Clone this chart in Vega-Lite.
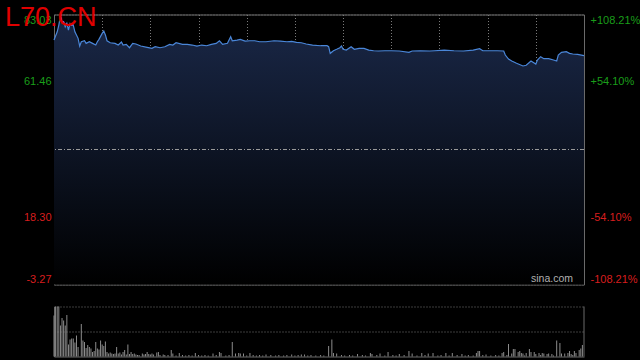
{
  "$schema": "https://vega.github.io/schema/vega-lite/v6.json",
  "background": "#000000",
  "autosize": {"type": "none"},
  "padding": {"left": 54, "top": 14.5, "right": 56, "bottom": 345.5},
  "title": {"text": "L70.CN", "anchor": "start", "frame": "group", "color": "#e00000", "fontSize": 27, "font": "Liberation Sans", "fontWeight": "normal", "baseline": "alphabetic", "offset": 0, "dx": -49, "dy": 39.5},
  "config": {"view": {"stroke": null}, "font": "Liberation Sans", "axis": {"labelFont": "Liberation Sans", "labelFontSize": 11}},
  "spacing": 20,
  "datasets": {
    "price": [
      {"t":0,"p":74.86},{"t":2,"p":77.51},{"t":3,"p":79.65},{"t":4,"p":82.52},{"t":5,"p":80.29},{"t":6,"p":80.70},{"t":7,"p":79.11},{"t":8,"p":80.19},{"t":9,"p":78.05},{"t":10,"p":80.19},{"t":11,"p":79.65},{"t":12,"p":79.65},{"t":13,"p":77.51},{"t":15,"p":75.41},{"t":16,"p":72.95},{"t":17,"p":74.32},{"t":19,"p":74.64},{"t":20,"p":73.81},{"t":22,"p":74.32},{"t":24,"p":73.81},{"t":26,"p":73.27},{"t":27,"p":74.32},{"t":28,"p":75.09},{"t":30,"p":77.00},{"t":31,"p":77.73},{"t":32,"p":76.49},{"t":33,"p":74.64},{"t":35,"p":74.00},{"t":38,"p":73.81},{"t":40,"p":73.27},{"t":42,"p":74.23},{"t":43,"p":73.27},{"t":45,"p":73.49},{"t":47,"p":72.41},{"t":49,"p":73.81},{"t":51,"p":73.59},{"t":54,"p":72.95},{"t":58,"p":72.54},{"t":61,"p":72.22},{"t":63,"p":72.73},{"t":66,"p":72.41},{"t":69,"p":72.73},{"t":72,"p":73.49},{"t":74,"p":73.27},{"t":76,"p":74.00},{"t":80,"p":73.49},{"t":83,"p":73.49},{"t":86,"p":73.27},{"t":89,"p":72.95},{"t":92,"p":73.27},{"t":95,"p":73.05},{"t":98,"p":73.49},{"t":101,"p":73.81},{"t":103,"p":74.64},{"t":105,"p":73.49},{"t":108,"p":73.81},{"t":110,"p":75.92},{"t":111,"p":74.64},{"t":114,"p":74.86},{"t":116,"p":75.09},{"t":119,"p":74.55},{"t":122,"p":74.64},{"t":125,"p":74.64},{"t":128,"p":74.32},{"t":132,"p":74.32},{"t":137,"p":74.64},{"t":141,"p":74.55},{"t":145,"p":74.32},{"t":148,"p":74.45},{"t":151,"p":74.13},{"t":154,"p":74.00},{"t":157,"p":73.59},{"t":161,"p":73.27},{"t":166,"p":73.05},{"t":170,"p":73.05},{"t":171,"p":72.73},{"t":172,"p":70.62},{"t":174,"p":71.45},{"t":176,"p":71.90},{"t":178,"p":72.41},{"t":179,"p":72.95},{"t":180,"p":71.90},{"t":182,"p":71.67},{"t":185,"p":72.73},{"t":187,"p":71.90},{"t":190,"p":72.22},{"t":193,"p":72.22},{"t":196,"p":71.67},{"t":199,"p":71.45},{"t":202,"p":71.36},{"t":206,"p":71.45},{"t":210,"p":71.45},{"t":215,"p":71.36},{"t":221,"p":70.94},{"t":223,"p":71.36},{"t":228,"p":71.45},{"t":234,"p":71.36},{"t":237,"p":71.45},{"t":243,"p":71.67},{"t":249,"p":71.45},{"t":255,"p":71.36},{"t":261,"p":71.67},{"t":265,"p":72.09},{"t":267,"p":71.45},{"t":271,"p":71.45},{"t":276,"p":71.45},{"t":280,"p":71.36},{"t":281,"p":70.08},{"t":283,"p":68.80},{"t":285,"p":68.17},{"t":288,"p":67.43},{"t":292,"p":66.57},{"t":294,"p":66.79},{"t":297,"p":68.17},{"t":300,"p":67.21},{"t":301,"p":68.48},{"t":303,"p":69.54},{"t":305,"p":68.90},{"t":308,"p":68.90},{"t":311,"p":68.48},{"t":313,"p":68.17},{"t":314,"p":70.08},{"t":316,"p":70.94},{"t":319,"p":71.13},{"t":321,"p":70.62},{"t":323,"p":70.40},{"t":326,"p":70.30},{"t":330,"p":69.86}
    ],
    "vol": [
      {"t":0,"v":82},{"t":1,"v":100},{"t":2,"v":100},{"t":3,"v":100},{"t":4,"v":62},{"t":5,"v":77},{"t":6,"v":72},{"t":7,"v":62},{"t":8,"v":83},{"t":9,"v":24},{"t":10,"v":34},{"t":11,"v":36},{"t":12,"v":36},{"t":13,"v":28},{"t":14,"v":42},{"t":15,"v":19},{"t":17,"v":65},{"t":18,"v":32},{"t":19,"v":29},{"t":20,"v":17},{"t":21,"v":23},{"t":22,"v":19},{"t":23,"v":16},{"t":24,"v":9},{"t":25,"v":11},{"t":26,"v":29},{"t":27,"v":16},{"t":28,"v":14},{"t":29,"v":32},{"t":30,"v":24},{"t":31,"v":21},{"t":32,"v":30},{"t":33,"v":9},{"t":34,"v":6},{"t":35,"v":8},{"t":36,"v":6},{"t":37,"v":5},{"t":38,"v":6},{"t":39,"v":19},{"t":40,"v":6},{"t":41,"v":8},{"t":42,"v":4},{"t":43,"v":9},{"t":44,"v":13},{"t":45,"v":4},{"t":46,"v":24},{"t":47,"v":5},{"t":48,"v":9},{"t":49,"v":5},{"t":50,"v":6},{"t":51,"v":4},{"t":52,"v":3},{"t":53,"v":3},{"t":55,"v":6},{"t":56,"v":4},{"t":57,"v":5},{"t":58,"v":9},{"t":59,"v":5},{"t":60,"v":4},{"t":61,"v":6},{"t":62,"v":4},{"t":64,"v":8},{"t":65,"v":9},{"t":66,"v":3},{"t":68,"v":4},{"t":69,"v":3},
      {"t":71,"v":3},{"t":73,"v":13},{"t":74,"v":6},{"t":76,"v":2},{"t":78,"v":7},{"t":80,"v":3},{"t":82,"v":2},{"t":84,"v":3},{"t":86,"v":2},{"t":88,"v":7},{"t":90,"v":3},{"t":92,"v":2},{"t":94,"v":3},{"t":96,"v":2},{"t":99,"v":6},{"t":101,"v":3},{"t":103,"v":9},{"t":104,"v":7},{"t":107,"v":2},{"t":109,"v":3},{"t":111,"v":29},{"t":113,"v":6},{"t":115,"v":7},{"t":116,"v":6},{"t":118,"v":6},{"t":120,"v":2},{"t":122,"v":7},{"t":124,"v":3},{"t":126,"v":2},{"t":128,"v":3},{"t":130,"v":2},{"t":132,"v":4},{"t":135,"v":3},{"t":138,"v":2},{"t":140,"v":3},{"t":143,"v":2},{"t":145,"v":3},{"t":148,"v":4},{"t":150,"v":2},{"t":152,"v":3},{"t":154,"v":4},{"t":156,"v":4},{"t":158,"v":2},{"t":160,"v":3},{"t":163,"v":2},{"t":166,"v":3},{"t":168,"v":2},{"t":171,"v":21},{"t":173,"v":34},{"t":174,"v":7},{"t":176,"v":6},{"t":179,"v":3},{"t":181,"v":2},{"t":184,"v":3},{"t":186,"v":2},{"t":189,"v":5},{"t":192,"v":3},{"t":194,"v":2},{"t":197,"v":7},{"t":198,"v":5},{"t":201,"v":3},{"t":203,"v":6},{"t":206,"v":2},{"t":208,"v":9},{"t":211,"v":3},{"t":213,"v":2},{"t":215,"v":5},{"t":218,"v":3},{"t":221,"v":11},{"t":223,"v":6},{"t":226,"v":2},{"t":229,"v":7},{"t":231,"v":3},{"t":233,"v":6},{"t":236,"v":7},{"t":239,"v":2},{"t":241,"v":3},{"t":244,"v":7},{"t":246,"v":2},{"t":248,"v":7},{"t":251,"v":3},{"t":254,"v":5},{"t":256,"v":2},{"t":258,"v":3},{"t":261,"v":2},{"t":263,"v":7},{"t":264,"v":11},{"t":265,"v":11},{"t":267,"v":3},{"t":269,"v":4},{"t":272,"v":2},{"t":275,"v":3},{"t":277,"v":2},{"t":279,"v":7},{"t":280,"v":9},{"t":282,"v":3},{"t":283,"v":25},{"t":285,"v":6},{"t":286,"v":15},{"t":287,"v":15},{"t":289,"v":9},{"t":290,"v":11},{"t":291,"v":7},{"t":292,"v":6},{"t":293,"v":2},{"t":294,"v":7},{"t":296,"v":15},{"t":297,"v":9},{"t":299,"v":9},{"t":300,"v":5},{"t":302,"v":7},{"t":303,"v":3},{"t":304,"v":7},{"t":305,"v":6},{"t":307,"v":5},{"t":308,"v":6},{"t":310,"v":5},{"t":311,"v":2},{"t":313,"v":32},{"t":315,"v":27},{"t":316,"v":6},{"t":318,"v":6},{"t":320,"v":7},{"t":321,"v":11},{"t":322,"v":5},{"t":323,"v":3},{"t":324,"v":11},{"t":325,"v":7},{"t":327,"v":13},{"t":328,"v":16},{"t":329,"v":23}
    ]
  },
  "vconcat": [
    {
      "width": 530,
      "height": 270,
      "view": {"stroke": "#6a6a6a", "strokeWidth": 1},
      "layer": [
        {
          "data": {"name": "price"},
          "mark": {"type": "area", "fill": {"gradient": "linear", "x1": 0, "y1": 0, "x2": 0, "y2": 1, "stops": [{"offset": 0, "color": "#1a2848"}, {"offset": 1, "color": "#000000"}]}},
          "encoding": {
            "x": {"field": "t", "type": "quantitative", "scale": {"domain": [0, 330], "nice": false, "zero": false},
                  "axis": {"values": [30, 60, 90, 120, 150, 180, 210, 240, 270, 300], "grid": true, "gridColor": "#7a7a7a", "gridDash": [1, 2], "labels": false, "ticks": false, "domain": false, "title": null}},
            "y": {"field": "p", "type": "quantitative", "scale": {"domain": [-3.27, 83.03], "nice": false, "zero": false},
                  "axis": {"values": [-3.27, 18.30, 61.46, 83.03], "labelExpr": "datum.value < 0 ? '-3.27' : format(datum.value, '.2f')", "grid": true, "gridColor": "#7a7a7a", "gridDash": [1, 2], "ticks": false, "domain": false, "labelFlush": true, "labelPadding": 3, "labelColor": {"expr": "datum.value > 39.88 ? '#1a9e1a' : '#d81e1e'"}, "title": null}},
            "y2": {"datum": -3.27}
          }
        },
        {
          "data": {"name": "price"},
          "mark": {"type": "line", "color": "#4a86d8", "strokeWidth": 1.2},
          "encoding": {
            "x": {"field": "t", "type": "quantitative"},
            "y": {"field": "p", "type": "quantitative",
                  "axis": {"orient": "right", "values": [-3.27, 18.30, 61.46, 83.03], "grid": false, "ticks": false, "domain": false, "labelFlush": true, "labelPadding": 6, "labelExpr": "datum.value > 80 ? '+108.21%' : datum.value > 39.88 ? '+54.10%' : datum.value > 0 ? '-54.10%' : '-108.21%'", "labelColor": {"expr": "datum.value > 39.88 ? '#1a9e1a' : '#d81e1e'"}, "title": null}}
          }
        },
        {
          "data": {"values": [{"prevClose": 39.88}]},
          "mark": {"type": "rule", "color": "#9a9a9a", "strokeDash": [4, 2, 1, 2], "strokeWidth": 1},
          "encoding": {"y": {"field": "prevClose", "type": "quantitative", "axis": null}}
        },
        {
          "data": {"values": [{"label": "sina.com"}]},
          "mark": {"type": "text", "align": "right", "baseline": "bottom", "dx": -11, "dy": -1, "color": "#b0b0b0", "fontSize": 10.5, "font": "Liberation Sans"},
          "encoding": {"x": {"datum": 330}, "y": {"datum": -3.27, "axis": null}, "text": {"field": "label"}}
        }
      ],
      "resolve": {"axis": {"y": "independent"}}
    },
    {
      "width": 530,
      "height": 50,
      "layer": [
        {
          "data": {"name": "vol"},
          "mark": {"type": "rule", "color": "#8c8c8c", "strokeWidth": 1},
          "encoding": {
            "x": {"field": "t", "type": "quantitative", "scale": {"domain": [0, 330], "nice": false, "zero": false},
                  "axis": {"labels": false, "ticks": false, "grid": false, "domain": true, "domainColor": "#6a6a6a", "title": null}},
            "y": {"field": "v", "type": "quantitative", "scale": {"domain": [0, 100], "nice": false},
                  "axis": {"values": [50, 100], "grid": true, "gridColor": "#7a7a7a", "gridDash": [1, 2], "labels": false, "ticks": false, "domain": true, "domainColor": "#6a6a6a", "title": null}},
            "y2": {"datum": 0}
          }
        },
        {
          "data": {"values": [{"end": 330}]},
          "mark": {"type": "rule", "color": "#6a6a6a", "strokeWidth": 1},
          "encoding": {"x": {"field": "end", "type": "quantitative"}}
        }
      ]
    }
  ]
}
